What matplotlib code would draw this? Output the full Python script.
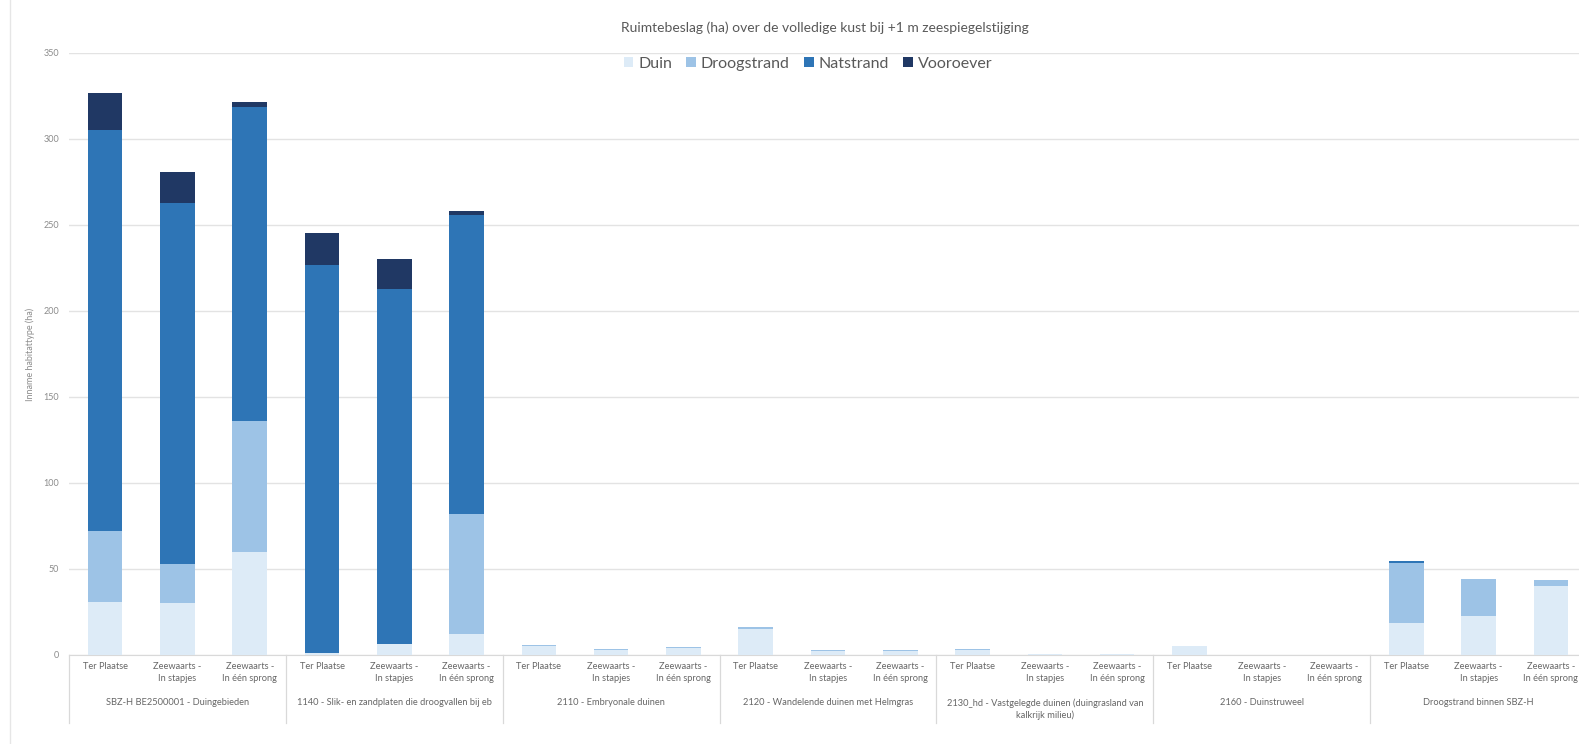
import matplotlib
matplotlib.use("Agg")
import matplotlib.pyplot as plt
from matplotlib.patches import Patch
import matplotlib.transforms as mtransforms
import numpy as np

plt.rcParams['font.family'] = ['Lato', 'DejaVu Sans']

title = "Ruimtebeslag (ha) over de volledige kust bij +1 m zeespiegelstijging"
ylabel = "Inname habitattype (ha)"
series_names = ["Duin", "Droogstrand", "Natstrand", "Vooroever"]
colors = ["#DDEBF7", "#9DC3E6", "#2E75B6", "#203864"]

groups = [
    "SBZ-H BE2500001 - Duingebieden",
    "1140 - Slik- en zandplaten die droogvallen bij eb",
    "2110 - Embryonale duinen",
    "2120 - Wandelende duinen met Helmgras",
    "2130_hd - Vastgelegde duinen (duingrasland van\nkalkrijk milieu)",
    "2160 - Duinstruweel",
    "Droogstrand binnen SBZ-H",
]
scenarios = ["Ter Plaatse", "Zeewaarts -\nIn stapjes", "Zeewaarts -\nIn één sprong"]

duin = [31, 30, 60, 1, 6.5, 12, 5, 3, 4, 15, 2.2, 2.2, 3, 0.5, 0.5, 5.5, 0, 0, 18.5, 22.5, 40]
droogstrand = [41, 23, 76, 0, 0, 70, 1, 0.5, 0.8, 1, 0.6, 0.6, 0.5, 0.3, 0.3, 0, 0, 0, 35, 21.7, 3.6]
natstrand = [233, 210, 182.5, 226, 206.5, 174, 0, 0, 0, 0, 0, 0, 0, 0, 0, 0, 0, 0, 1.2, 0, 0]
vooroever = [22, 18, 3, 18.5, 17, 2, 0, 0, 0, 0, 0, 0, 0, 0, 0, 0, 0, 0, 0, 0, 0]
yticks = [0, 50, 100, 150, 200, 250, 300, 350]

W, H = 1579, 744
fig = plt.figure(figsize=(W / 100, H / 100), dpi=100)
ax_left, ax_right, ax_top, ax_bot = 69, 1587, 53, 655
ax = fig.add_axes([ax_left / W, 1 - ax_bot / H, (ax_right - ax_left) / W, (ax_bot - ax_top) / H])

n = len(duin)
x = np.arange(n)
bottom = np.zeros(n)
for vals, col, name in zip([duin, droogstrand, natstrand, vooroever], colors, series_names):
    ax.bar(x, vals, width=0.48, bottom=bottom, color=col, label=name, zorder=3)
    bottom += np.array(vals)

ax.set_xlim(-0.5, n - 0.5)
ax.set_ylim(0, 350)
ax.set_yticks(yticks)
ax.tick_params(axis='y', length=0, labelsize=6.5, labelcolor='#8C8C8C', pad=7)
ax.set_xticks([])
for s in ['top', 'right', 'left']:
    ax.spines[s].set_visible(False)
ax.spines['bottom'].set_color('#D9D9D9')
ax.grid(axis='y', color='#E3E3E3', linewidth=1.0, zorder=0)

ax_h = ax_bot - ax_top
def yf(py):
    return (ax_bot - py) / ax_h

trans = mtransforms.blended_transform_factory(ax.transData, ax.transAxes)
# category labels
for i in range(n):
    ax.text(x[i], yf(662), scenarios[i % 3], transform=trans, ha='center', va='top',
            fontsize=6.7, color='#666666', linespacing=1.45, clip_on=False)
# group labels
for g, name in enumerate(groups):
    ax.text(g * 3 + 1, yf(698), name, transform=trans, ha='center', va='top',
            fontsize=6.7, color='#666666', linespacing=1.45, clip_on=False)
# separators
for g in range(len(groups) + 1):
    ax.plot([g * 3 - 0.5, g * 3 - 0.5], [0, yf(723)], transform=trans, color='#D9D9D9',
            linewidth=0.9, clip_on=False)

ax.set_ylabel(ylabel, fontsize=6.5, color='#8C8C8C', labelpad=6)

fig.text(825 / W, 1 - 28 / H, title, ha='center', va='center', fontsize=10, color='#595959')

handles = [Patch(facecolor=c, edgecolor='none', label=nm) for c, nm in zip(colors, series_names)]
fig.legend(handles=handles, loc='center', bbox_to_anchor=(808 / W, 1 - 64 / H), ncol=4,
           frameon=False, fontsize=11.5, labelcolor='#595959', handlelength=0.6,
           handleheight=0.6, handletextpad=0.3, columnspacing=0.9)

fig.add_artist(plt.Line2D([10 / W, 10 / W], [0, 1], color='#E6E6E6', linewidth=1.0))

fig.savefig("out.png", dpi=100, facecolor='white')
